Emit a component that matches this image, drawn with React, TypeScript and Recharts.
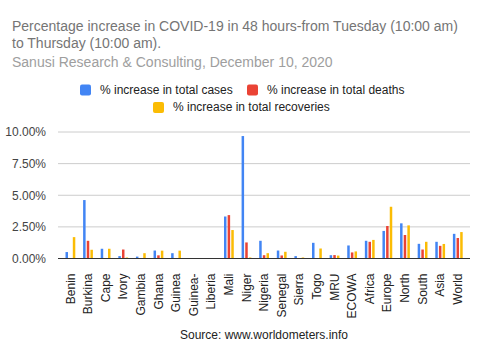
import React from "react";
import { BarChart, Bar, XAxis, YAxis, CartesianGrid } from "recharts";

const categories = [
  "Benin", "Burkina", "Cape", "Ivory", "Gambia", "Ghana", "Guinea", "Guinea-",
  "Liberia", "Mali", "Niger", "Nigeria", "Senegal", "Sierra", "Togo", "MRU",
  "ECOWA", "Africa", "Europe", "North", "South", "Asia", "World",
];

// values in percent
const cases = [
  0.51, 4.62, 0.77, 0.19, 0.15, 0.63, 0.42, 0, 0, 3.32, 9.68, 1.4, 0.63, 0.19,
  1.24, 0.26, 1.03, 1.4, 2.18, 2.78, 1.16, 1.32, 1.95,
];
const deaths = [
  0, 1.4, 0, 0.71, 0, 0.25, 0, 0, 0, 3.43, 1.27, 0.26, 0.24, 0, 0, 0.27, 0.48,
  1.32, 2.57, 1.86, 0.71, 1.0, 1.62,
];
const recoveries = [
  1.69, 0.69, 0.77, 0.08, 0.42, 0.62, 0.62, 0, 0, 2.25, 0.08, 0.42, 0.53, 0.08,
  0.79, 0.23, 0.56, 1.47, 4.09, 2.62, 1.32, 1.15, 2.09,
];
const yTicks = [0, 2.5, 5, 7.5, 10];

const seriesNames = [
  "% increase in total cases",
  "% increase in total deaths",
  "% increase in total recoveries",
];
const colors = ["#4285F4", "#EA4335", "#FBBC04"];

const data = categories.map((name, i) => ({
  name,
  cases: cases[i],
  deaths: deaths[i],
  recoveries: recoveries[i],
}));

const FONT = "'Liberation Sans', Arial, sans-serif";

const RotatedTick = (props: any) => {
  const { x, y, payload } = props;
  return (
    <text
      x={0}
      y={0}
      transform={`translate(${x},${y + 7}) rotate(-90)`}
      textAnchor="end"
      dy="0.35em"
      fontSize={12}
      fontFamily={FONT}
      fill="#222"
    >
      {payload.value}
    </text>
  );
};

const LegendItem = ({ x, y, color, label }: { x: number; y: number; color: string; label: string }) => (
  <g>
    <rect x={x} y={y - 9} width={11} height={11} rx={2} fill={color} />
    <text x={x + 20} y={y} fontSize={12} fill="#222" fontFamily={FONT}>
      {label}
    </text>
  </g>
);

export default function App() {
  return (
    <div style={{ position: "absolute", left: 0, top: 0, width: 480, height: 360, background: "#fff" }}>
      <BarChart
        width={480}
        height={360}
        data={data}
        margin={{ top: 132, right: 10, bottom: 0, left: 0 }}
        barSize={2.5}
        barGap={1.15}
      >
        <CartesianGrid vertical={false} stroke="#cccccc" />
        <XAxis
          dataKey="name"
          interval={0}
          height={101.5}
          padding={{ left: 3.5, right: 3.5 }}
          tickLine={false}
          axisLine={{ stroke: "#333" }}
          tick={<RotatedTick />}
        />
        <YAxis
          width={58}
          domain={[0, 10]}
          ticks={yTicks}
          axisLine={false}
          tickLine={false}
          tickMargin={6}
          tickFormatter={(v: number) => `${v.toFixed(2)}%`}
          tick={{ fontSize: 12, fill: "#444", fontFamily: FONT }}
        />
        <Bar dataKey="cases" name={seriesNames[0]} fill={colors[0]} isAnimationActive={false} />
        <Bar dataKey="deaths" name={seriesNames[1]} fill={colors[1]} isAnimationActive={false} />
        <Bar dataKey="recoveries" name={seriesNames[2]} fill={colors[2]} isAnimationActive={false} />
      </BarChart>
      <svg
        width={480}
        height={360}
        style={{ position: "absolute", left: 0, top: 0, pointerEvents: "none" }}
      >
        <text x={12} y={30.5} fontSize={14} fill="#757575" fontFamily={FONT}>
          Percentage increase in COVID-19 in 48 hours-from Tuesday (10:00 am)
        </text>
        <text x={12} y={47.5} fontSize={14} fill="#757575" fontFamily={FONT}>
          to Thursday (10:00 am).
        </text>
        <text x={12} y={66.5} fontSize={14} fill="#9e9e9e" fontFamily={FONT}>
          Sanusi Research &amp; Consulting, December 10, 2020
        </text>
        <LegendItem x={80} y={93.5} color={colors[0]} label={seriesNames[0]} />
        <LegendItem x={247} y={93.5} color={colors[1]} label={seriesNames[1]} />
        <LegendItem x={153} y={111} color={colors[2]} label={seriesNames[2]} />
        <text x={264} y={339} textAnchor="middle" fontSize={12} fill="#222" fontFamily={FONT}>
          Source: www.worldometers.info
        </text>
      </svg>
    </div>
  );
}
